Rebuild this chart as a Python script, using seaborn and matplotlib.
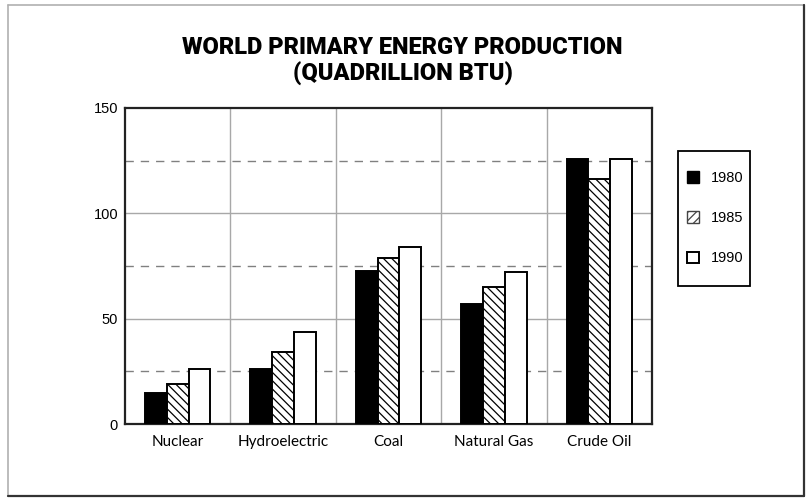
import pandas as pd
import matplotlib
matplotlib.use("Agg")
import matplotlib.pyplot as plt
import seaborn as sns
from matplotlib.patches import Patch, Rectangle
from matplotlib.lines import Line2D

# =========================
# Data
# =========================
sources = ["Nuclear", "Hydroelectric", "Coal", "Natural Gas", "Crude Oil"]
years = ["1980", "1985", "1990"]
prod_1980 = [14.5, 26, 72.5, 57, 126]
prod_1985 = [19, 34, 79, 65, 116.5]
prod_1990 = [26, 43.5, 84, 72, 126]
y_ticks = [0, 50, 100, 150]

df = pd.DataFrame({
    "source": sources * 3,
    "year": [years[0]] * 5 + [years[1]] * 5 + [years[2]] * 5,
    "value": prod_1980 + prod_1985 + prod_1990,
})

# =========================
# Figure
# =========================
sns.set_style("white")
plt.rcParams["hatch.linewidth"] = 0.9
plt.rcParams["text.color"] = "black"
plt.rcParams["xtick.color"] = "black"
plt.rcParams["ytick.color"] = "black"
plt.rcParams["font.family"] = ["Liberation Sans", "DejaVu Sans"]

fig = plt.figure(figsize=(8.07, 4.99), dpi=100)
ax = fig.add_axes([125 / 807, 1 - 424 / 499, 527 / 807, 316 / 499])

sns.barplot(
    data=df, x="source", y="value", hue="year",
    palette=["black", "white", "white"],
    edgecolor="black", linewidth=1.4, width=0.62, gap=0,
    saturation=1, ax=ax, legend=False, zorder=3,
)

# arsiran untuk 1985
for bar in ax.containers[1]:
    bar.set_hatch("\\\\\\\\")

ax.set_ylim(0, 150)
ax.set_xlim(-0.5, len(sources) - 0.5)
ax.set_yticks(y_ticks)
ax.set_xlabel("")
ax.set_ylabel("")

# grid: solid di 50/100, putus-putus di 25/75/125
for v in [50, 100]:
    ax.axhline(v, color="#a8a8a8", lw=1, zorder=1)
for v in [25, 75, 125]:
    ax.axhline(v, color="#808080", lw=1, ls=(0, (6, 5)), zorder=1)
for i in range(len(sources) - 1):
    ax.axvline(i + 0.5, color="#a8a8a8", lw=1, zorder=1)

for s in ax.spines.values():
    s.set_color("#222222")
    s.set_linewidth(1.6)

ax.tick_params(axis="both", length=0)
ax.tick_params(axis="y", pad=5, labelsize=10.5)
ax.tick_params(axis="x", pad=8, labelsize=11)
for lab in ax.get_xticklabels():
    lab.set_family(["Lato", "DejaVu Sans"])

# =========================
# Title
# =========================
title_kw = dict(ha="center", va="center", fontsize=17, fontweight=900,
                family=["Roboto", "DejaVu Sans"])
fig.text(0.499, 1 - 47 / 499, "WORLD PRIMARY ENERGY PRODUCTION", **title_kw)
fig.text(0.499, 1 - 74 / 499, "(QUADRILLION BTU)", **title_kw)

# =========================
# Legend
# =========================
handles = [
    Patch(facecolor="black", edgecolor="black"),
    Patch(facecolor="white", edgecolor="#444444", hatch="////"),
    Patch(facecolor="white", edgecolor="black", linewidth=1.4),
]
leg = fig.legend(
    handles, years, loc="upper left",
    bbox_to_anchor=(687 / 807, 1 - 171 / 499),
    frameon=False,
    handlelength=0.85, handleheight=0.85, handletextpad=0.8,
    labelspacing=1.8, borderpad=0, borderaxespad=0,
    fontsize=10.5,
)
fig.add_artist(Rectangle((678 / 807, 1 - 286 / 499), 72 / 807, 135 / 499,
                         transform=fig.transFigure, fill=False,
                         edgecolor="black", lw=1.3))

# =========================
# Outer border
# =========================
fig.add_artist(Line2D([8 / 807, 8 / 807], [1 - 496 / 499, 1 - 5 / 499],
                      color="#b0b0b0", lw=1.2, transform=fig.transFigure))
fig.add_artist(Line2D([8 / 807, 804 / 807], [1 - 5 / 499, 1 - 5 / 499],
                      color="#b0b0b0", lw=1.2, transform=fig.transFigure))
fig.add_artist(Line2D([804 / 807, 804 / 807], [1 - 496 / 499, 1 - 5 / 499],
                      color="#333333", lw=1.6, transform=fig.transFigure))
fig.add_artist(Line2D([8 / 807, 804 / 807], [1 - 496 / 499, 1 - 496 / 499],
                      color="#333333", lw=1.6, transform=fig.transFigure))

fig.savefig("out.png", dpi=100)
